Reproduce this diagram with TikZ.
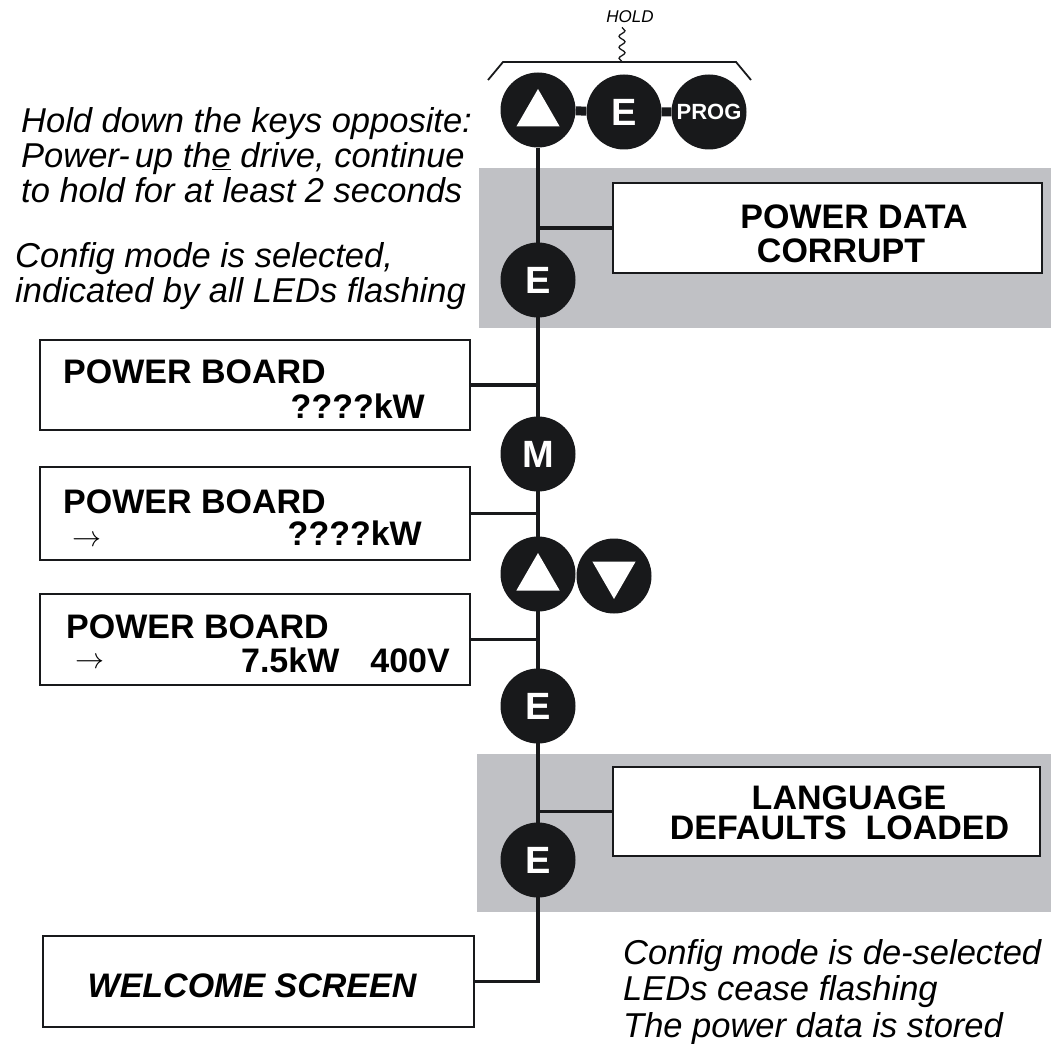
\RequirePackage{fix-cm}
\documentclass[tikz,border=0pt]{standalone}
\usepackage{fontspec}
\setmainfont{Liberation Sans}
\usepackage{tikz}
\usetikzlibrary{shapes.geometric, positioning, backgrounds, calc, decorations.pathmorphing}

\definecolor{keyblack}{RGB}{24,25,27}
\definecolor{bandgrey}{RGB}{192,193,197}

\begin{document}
\begin{tikzpicture}[
  x=1pt, y=-1pt,
  key/.style={circle, fill=keyblack, minimum size=75pt, inner sep=0pt, text=white,
              font=\bfseries\fontsize{38}{38}\selectfont},
  tri/.style={regular polygon, regular polygon sides=3, fill=white, minimum size=50pt, inner sep=0pt},
  lcd/.style={rectangle, draw=keyblack, line width=2.2pt, fill=white,
              minimum width=430pt, minimum height=90pt},
  lcdtext/.style={inner sep=0pt, font=\bfseries\fontsize{34}{34}\selectfont},
  arrowtext/.style={inner sep=0pt, anchor=base west, font=\fontsize{29}{29}\selectfont},
  note/.style={inner sep=0pt, align=left, anchor=base west, font=\itshape\fontsize{34.5}{35}\selectfont},
  band/.style={fill=bandgrey},
  wire/.style={line width=3.2pt, keyblack},
]
  \useasboundingbox (0,0) rectangle (1051,1043);

  % keys
  \node[key] (up1) at (538,110) {};
  \node[tri] (up1t) at ($(up1)+(0,4)$) {};
  \node[key] (ekey) at (624,112) {E};
  \node[key, font=\bfseries\fontsize{22}{22}\selectfont] (prog) at (709,112) {PROG};
  \node[key] (e1) at (538,280) {E};
  \node[key] (m) at (538,454) {M};
  \node[key] (up2) at (538,574) {};
  \node[tri] (up2t) at ($(up2)+(0,4)$) {};
  \node[key] (dn) at (614,576) {};
  \node[tri, shape border rotate=180] (dnt) at ($(dn)+(0,-2)$) {};
  \node[key] (e2) at (538,706) {E};
  \node[key] (e3) at (538,860) {E};

  % hold bracket
  \node[inner sep=0pt, anchor=base, font=\itshape\fontsize{17}{17}\selectfont] (hold) at (630,23) {HOLD};
  \coordinate (brtop) at (622,62);
  \draw[line width=1.8pt, keyblack] (488,80) -- (503,62) -- (736,62) -- (751,80);
  \draw[line width=1.3pt, keyblack, decorate, decoration={snake, amplitude=3pt, segment length=11pt}]
        ([yshift=-4pt]hold.south -| brtop) -- (brtop);

  % displays
  \node[lcd, minimum width=429pt] (corrupt) at (827.5,228) {};
  \node[lcd] (pb1) at (255,385) {};
  \node[lcd, minimum height=93pt] (pb2) at (255,513.5) {};
  \node[lcd, minimum height=91pt] (pb3) at (255,639.5) {};
  \node[lcd, minimum width=427pt, minimum height=89pt] (lang) at (826.5,811.5) {};
  \node[lcd, minimum width=431pt, minimum height=91pt] (welcome) at (258.5,981.5) {};

  \node[lcdtext, align=center, anchor=base] (corrupttxt) at (841,262) {\hspace*{26pt}POWER DATA\\CORRUPT};
  \node[lcdtext, anchor=base west] (pb1a) at (63,383) {POWER BOARD};
  \node[lcdtext, anchor=base east] (pb1b) at (425,418) {????kW};
  \node[lcdtext, anchor=base west] (pb2a) at (63,513) {POWER BOARD};
  \node[arrowtext] (pb2c) at (72,546) {$\rightarrow$};
  \node[lcdtext, anchor=base east] (pb2b) at (422,545) {????kW};
  \node[lcdtext, anchor=base west] (pb3a) at (66,638) {POWER BOARD};
  \node[arrowtext] (pb3c) at (75,668) {$\rightarrow$};
  \node[lcdtext, anchor=base east] (pb3b) at (450,672) {7.5kW\hspace{31pt}400V};
  \node[lcdtext, align=center, anchor=base, font=\bfseries\fontsize{34}{30}\selectfont] (langtxt) at (839.5,839) {\hspace*{19pt}LANGUAGE\\DEFAULTS\ \ LOADED};
  \node[lcdtext, anchor=base, font=\bfseries\itshape\fontsize{34}{34}\selectfont] (welcometxt) at (252,997) {WELCOME SCREEN};

  % notes
  \node[note] (holdnote) at (21,202) {Hold down the keys opposite:\\Power-\hspace{5pt}up th\underline{e} drive, continue\\to hold for at least 2 seconds};
  \node[note] (confnote) at (15,302) {Config mode is selected,\\indicated by all LEDs flashing};
  \node[note, font=\itshape\fontsize{34.5}{36.5}\selectfont] (endnote) at (623,1037) {Config mode is de-selected\\LEDs cease flashing\\The power data is stored};

  % bands and wiring
  \begin{scope}[on background layer]
    \fill[band] (479,168) rectangle (1051,328);
    \fill[band] (477,754) rectangle (1051,912);
    \draw[wire] (up1) -- (welcome.east -| up1) -- (welcome.east);
    \draw[wire] (corrupt.west) -- (corrupt.west -| up1);
    \draw[wire] (pb1.east) -- (pb1.east -| up1);
    \draw[wire] (pb2.east) -- (pb2.east -| up1);
    \draw[wire] (pb3.east) -- (pb3.east -| up1);
    \draw[wire] (lang.west) -- (lang.west -| up1);
    \draw[keyblack, line width=9pt] (up1) -- (ekey) -- (prog);
  \end{scope}
\end{tikzpicture}
\end{document}
